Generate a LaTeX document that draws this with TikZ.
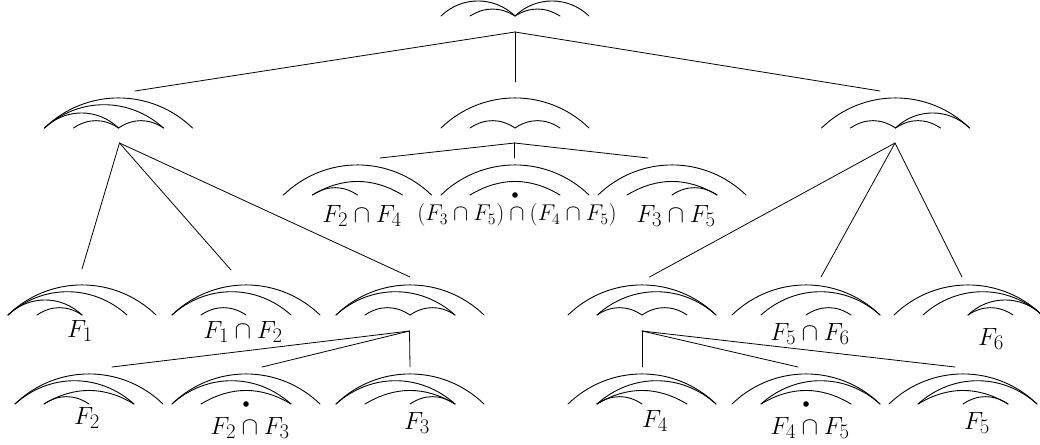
\documentclass[tikz,border=0pt]{standalone}
\usepackage{graphicx}
\begin{document}
\begin{tikzpicture}[x=1pt,y=-1pt,line width=0.9pt,line cap=round,
  oarc/.style={bend left=44},
  barc/.style={bend left=42},
  carc/.style={bend left=44},
  darc/.style={bend left=31},
  harc/.style={bend left=34},
  rarc/.style={bend left=32},
  lbl/.style={inner sep=0pt,font=\fontsize{24.88}{28}\selectfont},
  slbl/.style={inner sep=0pt,font=\fontsize{20.74}{24}\selectfont},
  link/.style={line width=0.8pt}]
\useasboundingbox (0,0) rectangle (1040,444);
% ---------- root ----------
\begin{scope}[shift={(515,16)}]
  \draw (-74,0) to[carc] (0,0) to[carc] (74,0);
  \draw (-45,0) to[rarc] (0,0) to[rarc] (45,0);
\end{scope}
% ---------- level 1 ----------
\begin{scope}[shift={(118.5,128)}]
  \draw (-74,0) to[oarc] (74,0);
  \draw (-74,0) to[barc] (45,0);
  \draw (-74,0) to[carc] (0,0);
  \draw (-45,0) to[harc] (0,0) to[harc] (45,0);
\end{scope}
\begin{scope}[shift={(515,128)}]
  \draw (-74,0) to[oarc] (74,0);
  \draw (-45,0) to[harc] (0,0) to[harc] (45,0);
\end{scope}
\begin{scope}[shift={(895.5,128)}]
  \draw (-74,0) to[oarc] (74,0);
  \draw (-45,0) to[harc] (0,0) to[harc] (45,0);
  \draw (0,0) to[carc] (74,0);
\end{scope}
% ---------- level 1.5 ----------
\begin{scope}[shift={(357.5,195)}]
  \draw (-74,0) to[oarc] (74,0);
  \draw (-45,0) to[darc] (45,0);
  \draw (-45,0) to[harc] (0,0);
\end{scope}
\begin{scope}[shift={(515,195)}]
  \draw (-74,0) to[oarc] (74,0);
  \draw (-45,0) to[darc] (45,0);
  \fill (0,0) circle (2.8);
\end{scope}
\begin{scope}[shift={(672,195)}]
  \draw (-74,0) to[oarc] (74,0);
  \draw (-45,0) to[darc] (45,0);
  \draw (0,0) to[harc] (45,0);
\end{scope}
% ---------- level 2 ----------
\begin{scope}[shift={(82,315)}]
  \draw (-74,0) to[oarc] (74,0);
  \draw (-74,0) to[barc] (45,0);
  \draw (-74,0) to[carc] (0,0);
  \draw (-45,0) to[harc] (0,0);
\end{scope}
\begin{scope}[shift={(246,315)}]
  \draw (-74,0) to[oarc] (74,0);
  \draw (-74,0) to[barc] (45,0);
  \draw (-45,0) to[harc] (0,0);
\end{scope}
\begin{scope}[shift={(410,315)}]
  \draw (-74,0) to[oarc] (74,0);
  \draw (-74,0) to[barc] (45,0);
  \draw (-45,0) to[harc] (0,0) to[harc] (45,0);
\end{scope}
\begin{scope}[shift={(642,315)}]
  \draw (-74,0) to[oarc] (74,0);
  \draw (-45,0) to[barc] (74,0);
  \draw (-45,0) to[harc] (0,0) to[harc] (45,0);
\end{scope}
\begin{scope}[shift={(806,315)}]
  \draw (-74,0) to[oarc] (74,0);
  \draw (-45,0) to[barc] (74,0);
  \draw (0,0) to[harc] (45,0);
\end{scope}
\begin{scope}[shift={(968,315)}]
  \draw (-74,0) to[oarc] (74,0);
  \draw (-45,0) to[barc] (74,0);
  \draw (0,0) to[carc] (74,0);
  \draw (0,0) to[harc] (45,0);
\end{scope}
% ---------- level 3 ----------
\begin{scope}[shift={(89,404)}]
  \draw (-74,0) to[oarc] (74,0);
  \draw (-74,0) to[barc] (45,0);
  \draw (-45,0) to[darc] (45,0);
  \draw (-45,0) to[harc] (0,0);
\end{scope}
\begin{scope}[shift={(246,404)}]
  \draw (-74,0) to[oarc] (74,0);
  \draw (-74,0) to[barc] (45,0);
  \draw (-45,0) to[darc] (45,0);
  \fill (0,0) circle (2.8);
\end{scope}
\begin{scope}[shift={(410,404)}]
  \draw (-74,0) to[oarc] (74,0);
  \draw (-74,0) to[barc] (45,0);
  \draw (-45,0) to[darc] (45,0);
  \draw (0,0) to[harc] (45,0);
\end{scope}
\begin{scope}[shift={(642,404)}]
  \draw (-74,0) to[oarc] (74,0);
  \draw (-45,0) to[barc] (74,0);
  \draw (-45,0) to[darc] (45,0);
  \draw (-45,0) to[harc] (0,0);
\end{scope}
\begin{scope}[shift={(806,404)}]
  \draw (-74,0) to[oarc] (74,0);
  \draw (-45,0) to[barc] (74,0);
  \draw (-45,0) to[darc] (45,0);
  \fill (0,0) circle (2.8);
\end{scope}
\begin{scope}[shift={(963,404)}]
  \draw (-74,0) to[oarc] (74,0);
  \draw (-45,0) to[barc] (74,0);
  \draw (-45,0) to[darc] (45,0);
  \draw (0,0) to[harc] (45,0);
\end{scope}
% ---------- labels ----------
\node[lbl] (lF24) at (362,216) {$F_2\cap F_4$};
\node[slbl] (lMid) at (517,215) {\scalebox{1.1}{$(F_3\cap F_5)\cap(F_4\cap F_5)$}};
\node[lbl] (lF35) at (676,216) {$F_3\cap F_5$};
\node[lbl] (lF1) at (80,331) {$F_1$};
\node[lbl] (lF12) at (243,332) {$F_1\cap F_2$};
\node[lbl] (lF56) at (810,334) {$F_5\cap F_6$};
\node[lbl] (lF6) at (991,339) {$F_6$};
\node[lbl] (lF2) at (87,418) {$F_2$};
\node[lbl] (lF23) at (250,428) {$F_2\cap F_3$};
\node[lbl] (lF3) at (417,423) {$F_3$};
\node[lbl] (lF4) at (655,421) {$F_4$};
\node[lbl] (lF45) at (810,428) {$F_4\cap F_5$};
\node[lbl] (lF5) at (977,423) {$F_5$};
% ---------- connector anchors ----------
\coordinate (T0-a) at (515,32);
\coordinate (A-t) at (135,91);
\coordinate (B-t) at (515,82);
\coordinate (C-t) at (880,91);
\coordinate (A-a) at (119.5,143);
\coordinate (B-a) at (514.5,143);
\coordinate (C-a) at (895,143);
\coordinate (D-t) at (380,158);
\coordinate (E-t) at (514.5,158);
\coordinate (F-t) at (648,158);
\coordinate (G-t) at (82,269);
\coordinate (H-t) at (231,270);
\coordinate (I-t) at (410,277);
\coordinate (J-t) at (649.5,277);
\coordinate (K-t) at (821,277);
\coordinate (L-t) at (962,277);
\coordinate (I-a) at (409.5,331);
\coordinate (J-a) at (642,331);
\coordinate (M-t) at (112,367);
\coordinate (N-t) at (262,367);
\coordinate (O-t) at (410,367);
\coordinate (P-t) at (642,367);
\coordinate (Q-t) at (798,367);
\coordinate (S-t) at (955,367);
% ---------- connectors ----------
\draw[link] (T0-a) -- (A-t);
\draw[link] (T0-a) -- (B-t);
\draw[link] (T0-a) -- (C-t);
\draw[link] (A-a) -- (G-t);
\draw[link] (A-a) -- (H-t);
\draw[link] (A-a) -- (I-t);
\draw[link] (B-a) -- (D-t);
\draw[link] (B-a) -- (E-t);
\draw[link] (B-a) -- (F-t);
\draw[link] (C-a) -- (J-t);
\draw[link] (C-a) -- (K-t);
\draw[link] (C-a) -- (L-t);
\draw[link] (I-a) -- (M-t);
\draw[link] (I-a) -- (N-t);
\draw[link] (I-a) -- (O-t);
\draw[link] (J-a) -- (P-t);
\draw[link] (J-a) -- (Q-t);
\draw[link] (J-a) -- (S-t);
\end{tikzpicture}
\end{document}
